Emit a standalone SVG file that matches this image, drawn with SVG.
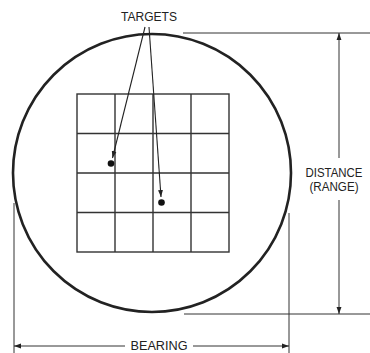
<svg xmlns="http://www.w3.org/2000/svg" width="370" height="353" viewBox="0 0 370 353">
<style>
.t{font-family:"Liberation Sans",Arial,sans-serif;font-size:12px;fill:#222}
.g{stroke:#333;stroke-width:1.4;fill:none}
.d{stroke:#333;stroke-width:1;fill:none}
.l{stroke:#222;stroke-width:1.1;fill:none}
</style>
<defs>
<marker id="ah" viewBox="0 0 10 10" refX="10" refY="5" markerWidth="7" markerHeight="7" orient="auto-start-reverse" markerUnits="userSpaceOnUse">
<path d="M0,1.5 L10,5 L0,8.5 Z" fill="#222"/>
</marker>
</defs>
<rect width="370" height="353" fill="#fff"/>
<g id="scope">
<circle cx="152" cy="173" r="139" fill="none" stroke="#222" stroke-width="2.6"/>
</g>
<g id="grid">
<rect x="77" y="94" width="152" height="158" class="g"/>
<path d="M115,94V252M153,94V252M191,94V252M77,133.5H229M77,173H229M77,212.5H229" class="g"/>
</g>
<g id="target1"><circle cx="111" cy="163.5" r="3.3" fill="#111"/></g>
<g id="target2"><circle cx="161.5" cy="202.5" r="3.3" fill="#111"/></g>
<g id="label-targets"><text class="t" x="149" y="21" text-anchor="middle" textLength="56" lengthAdjust="spacingAndGlyphs">TARGETS</text></g>
<g id="label-distance"><text class="t" x="334" y="177" text-anchor="middle" textLength="57" lengthAdjust="spacingAndGlyphs">DISTANCE</text><text class="t" x="334" y="191" text-anchor="middle" textLength="49" lengthAdjust="spacingAndGlyphs">(RANGE)</text></g>
<g id="label-bearing"><text class="t" x="159" y="350" text-anchor="middle" textLength="57" lengthAdjust="spacingAndGlyphs">BEARING</text></g>
<g id="connectors">
<path d="M145,27L112.5,158" class="l" marker-end="url(#ah)"/>
<path d="M149,27L161,197" class="l" marker-end="url(#ah)"/>
<path d="M183,33H370M184,314H370" class="d"/>
<path d="M339,158V33" class="d" marker-end="url(#ah)"/>
<path d="M339,200V314" class="d" marker-end="url(#ah)"/>
<path d="M14,203V353M289,213V353" class="d"/>
<path d="M125,346H14" class="d" marker-end="url(#ah)"/>
<path d="M193,346H289" class="d" marker-end="url(#ah)"/>
</g>
</svg>
